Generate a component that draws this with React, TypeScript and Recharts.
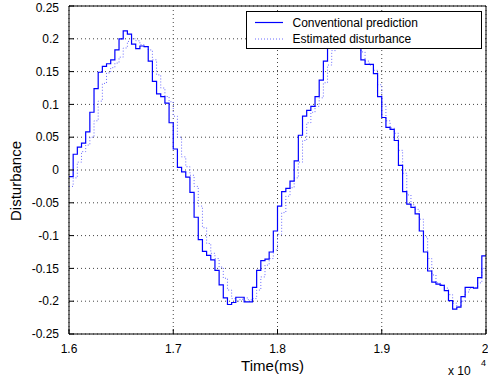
import React from "react";
import {
  CartesianGrid,
  Legend,
  Line,
  LineChart,
  XAxis,
  YAxis,
} from "recharts";

// one sample every 40 ms from t = 1.6e4 ms
const prediction = [
  -0.01, 0.024, 0.035, 0.041, 0.058, 0.088, 0.124, 0.149, 0.158, 0.162,
  0.168, 0.183, 0.2, 0.212, 0.207, 0.192, 0.185, 0.189, 0.188, 0.166,
  0.135, 0.116, 0.112, 0.102, 0.072, 0.032, 0.004, -0.003, -0.011, -0.034,
  -0.072, -0.106, -0.124, -0.13, -0.137, -0.153, -0.175, -0.195, -0.205, -0.202,
  -0.194, -0.194, -0.201, -0.201, -0.179, -0.153, -0.138, -0.136, -0.125, -0.093,
  -0.055, -0.033, -0.028, -0.017, 0.014, 0.053, 0.082, 0.091, 0.097, 0.112,
  0.137, 0.166, 0.19, 0.2, 0.207, 0.211, 0.209, 0.205, 0.198, 0.19,
  0.168, 0.161, 0.161, 0.147, 0.112, 0.08, 0.065, 0.062, 0.045, 0.007,
  -0.033, -0.052, -0.057, -0.067, -0.093, -0.125, -0.154, -0.171, -0.174, -0.176,
  -0.184, -0.199, -0.212, -0.209, -0.193, -0.179, -0.179, -0.18, -0.164, -0.131,
];

const estimate = [
  -0.025, -0.012, 0.012, 0.028, 0.038, 0.05, 0.075, 0.105, 0.132, 0.148,
  0.156, 0.163, 0.172, 0.186, 0.196, 0.2, 0.197, 0.191, 0.188, 0.183,
  0.168, 0.145, 0.125, 0.112, 0.104, 0.082, 0.05, 0.02, 0.005, -0.008,
  -0.025, -0.055, -0.088, -0.112, -0.127, -0.135, -0.148, -0.165, -0.183, -0.196,
  -0.2, -0.197, -0.195, -0.198, -0.196, -0.183, -0.163, -0.145, -0.135, -0.122,
  -0.098, -0.065, -0.04, -0.027, -0.012, 0.012, 0.045, 0.072, 0.088, 0.097,
  0.11, 0.133, 0.16, 0.182, 0.196, 0.205, 0.208, 0.206, 0.2, 0.192,
  0.18, 0.166, 0.16, 0.152, 0.13, 0.1, 0.075, 0.064, 0.056, 0.03,
  -0.005, -0.038, -0.053, -0.06, -0.075, -0.102, -0.135, -0.16, -0.172, -0.175,
  -0.18, -0.19, -0.203, -0.208, -0.2, -0.186, -0.18, -0.179, -0.172, -0.15,
];

const xTicks = [1.6, 1.7, 1.8, 1.9, 2];
const yTicks = [-0.25, -0.2, -0.15, -0.1, -0.05, 0, 0.05, 0.1, 0.15, 0.2, 0.25];

const seriesNames = ["Conventional prediction", "Estimated disturbance"];

const FONT = "'Liberation Sans', Arial, Helvetica, sans-serif";
const BLUE = "#0000ff";
const LIGHT_BLUE = "#6a6aff";

const data = prediction.map((p, i) => ({
  t: (16000 + 40 * i) / 10000,
  prediction: p,
  estimate: estimate[i],
}));
// hold the last sample up to the right edge
data.push({
  t: 2,
  prediction: prediction[prediction.length - 1],
  estimate: estimate[estimate.length - 1],
});

const fmt = (v: number) => String(Number(v.toFixed(2)));

const LegendBox = () => (
  <svg width={237} height={39} style={{ display: "block" }}>
    <rect x={0.5} y={0.5} width={235} height={37} fill="#fff" stroke="#000" />
    <line x1={9} x2={37} y1={11.5} y2={11.5} stroke={BLUE} strokeWidth={1.2} />
    <text x={46.5} y={11.5} dominantBaseline="central" fontSize={12} fontFamily={FONT}>
      {seriesNames[0]}
    </text>
    <line
      x1={9}
      x2={37}
      y1={28}
      y2={28}
      stroke={LIGHT_BLUE}
      strokeWidth={1}
      strokeDasharray="1 2"
    />
    <text x={46.5} y={28} dominantBaseline="central" fontSize={12} fontFamily={FONT}>
      {seriesNames[1]}
    </text>
  </svg>
);

export default function App() {
  return (
    <div style={{ position: "absolute", left: 0, top: 0, background: "#fff" }}>
      <LineChart
        width={488}
        height={381}
        data={data}
        margin={{ top: 0, right: 0, bottom: 0, left: 0 }}
        style={{ fontFamily: FONT }}
      >
        <CartesianGrid
          stroke="#444"
          strokeDasharray="1 3"
          verticalValues={xTicks}
          horizontalValues={yTicks}
        />
        <XAxis
          dataKey="t"
          type="number"
          domain={[1.6, 2]}
          ticks={xTicks}
          tickFormatter={fmt}
          allowDataOverflow
          height={47}
          tickSize={-5}
          tickMargin={15}
          stroke="#000"
          tick={{ fill: "#000", fontSize: 12 }}
          label={{
            content: ({ viewBox }: any) => (
              <g fontFamily={FONT} fill="#000">
                <text
                  x={viewBox.x + viewBox.width / 2 - 5}
                  y={viewBox.y + 31}
                  textAnchor="middle"
                  dominantBaseline="central"
                  fontSize={15}
                >
                  Time(ms)
                </text>
                <text x={448} y={375} fontSize={12}>
                  x 10
                </text>
                <text x={481} y={366} fontSize={9}>
                  4
                </text>
              </g>
            ),
          }}
        />
        <XAxis
          xAxisId="top"
          orientation="top"
          type="number"
          domain={[1.6, 2]}
          ticks={xTicks}
          height={6}
          tick={false}
          tickSize={-5}
          stroke="#000"
        />
        <YAxis
          type="number"
          domain={[-0.25, 0.25]}
          ticks={yTicks}
          tickFormatter={fmt}
          width={69}
          tickSize={-5}
          tickMargin={15}
          stroke="#000"
          tick={{ fill: "#000", fontSize: 12 }}
          label={{
            content: () => (
              <text
                x={15}
                y={181}
                transform="rotate(-90, 15, 181)"
                textAnchor="middle"
                dominantBaseline="central"
                fontSize={15}
                fontFamily={FONT}
                fill="#000"
              >
                Disturbance
              </text>
            ),
          }}
        />
        <YAxis
          yAxisId="right"
          orientation="right"
          type="number"
          domain={[-0.25, 0.25]}
          ticks={yTicks}
          width={2}
          tick={false}
          tickSize={-5}
          stroke="#000"
        />
        <Legend
          layout="vertical"
          align="center"
          verticalAlign="middle"
          content={() => <LegendBox />}
          wrapperStyle={{ left: 246, top: 11, width: 237, height: 39 }}
        />
        <Line
          type="stepAfter"
          dataKey="estimate"
          name={seriesNames[1]}
          stroke={LIGHT_BLUE}
          strokeWidth={1}
          strokeDasharray="1 2"
          dot={false}
          isAnimationActive={false}
        />
        <Line
          type="stepAfter"
          dataKey="prediction"
          name={seriesNames[0]}
          stroke={BLUE}
          strokeWidth={1.2}
          dot={false}
          isAnimationActive={false}
        />
      </LineChart>
    </div>
  );
}
